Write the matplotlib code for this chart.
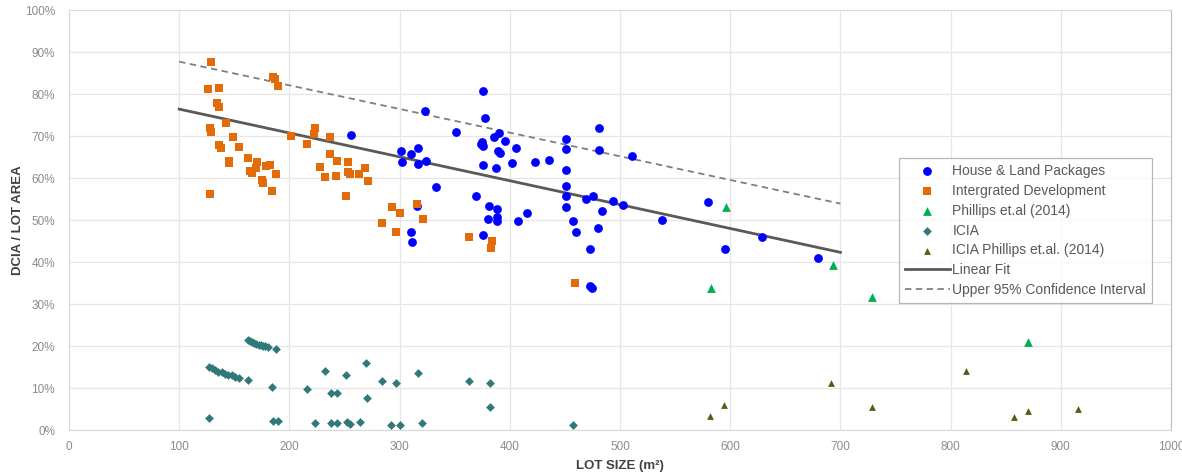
import matplotlib
matplotlib.use("Agg")
import matplotlib.pyplot as plt
from matplotlib.ticker import PercentFormatter, MultipleLocator

plt.rcParams["font.family"] = ["Liberation Sans", "DejaVu Sans"]

# House & Land Packages (lot size m2, DCIA %)
hl_x = [256, 301, 310, 317, 302, 317, 324, 323, 333, 316, 310, 311.5, 351, 376, 377.5,
        374.5, 376, 373.5, 385.7, 390.5, 395.9, 389.6, 391, 406, 376, 387.5, 402, 423,
        436, 369, 381, 388, 380.5, 388, 388, 407, 416, 376, 451, 451, 451, 451, 451, 451,
        481, 481, 511, 469.5, 475.5, 494, 503, 484, 457, 460, 480, 472.5, 472.5, 475,
        538, 580, 595, 629, 680]
hl_y = [70.2, 66.4, 65.7, 67.2, 63.7, 63.3, 64.0, 76.0, 57.8, 53.3, 47.2, 44.7, 71.0, 80.6,
        74.4, 68.5, 67.6, 68.0, 69.8, 70.6, 68.8, 66.5, 65.9, 67.1, 63.1, 62.3, 63.6, 63.9,
        64.2, 55.8, 53.3, 52.6, 50.2, 50.8, 49.8, 49.8, 51.7, 46.4, 69.4, 66.8, 61.8, 58.0,
        55.6, 53.2, 71.8, 66.6, 65.2, 55.1, 55.6, 54.6, 53.6, 52.1, 49.8, 47.1, 48.2, 43.0,
        34.4, 33.8, 50.0, 54.4, 43.1, 45.9, 41.0]

# Intergrated Development
id_x = [129, 126, 136, 134, 136, 142, 128, 129, 149, 136, 138, 154, 145, 145, 162, 164,
        166, 171, 170, 175, 176, 179, 182, 188, 184, 128, 185, 187, 190, 201, 216, 223,
        222, 237, 237, 243, 253, 228, 232, 242, 253, 255, 263, 269, 271, 251, 293, 300,
        284, 297, 316, 321, 363, 384, 383, 459]
id_y = [87.6, 81.3, 81.5, 77.9, 76.8, 73.2, 72.0, 71.0, 69.7, 67.9, 67.1, 67.3, 64.1, 63.6,
        64.8, 61.7, 61.1, 63.9, 62.3, 59.5, 58.9, 62.9, 63.1, 60.9, 56.8, 56.3, 84.0, 83.5,
        81.9, 70.0, 68.1, 71.8, 70.5, 69.8, 65.7, 64.0, 63.9, 62.7, 60.2, 60.5, 61.5, 61.0,
        61.0, 62.3, 59.4, 55.7, 53.0, 51.6, 49.2, 47.1, 53.7, 50.2, 46.0, 45.1, 43.4, 34.9]

# Phillips et.al (2014)
ph_x = [596, 583, 693, 728.5, 870]
ph_y = [53.2, 33.7, 39.3, 31.7, 21.0]

# ICIA
icia_x = [162, 164, 166, 168, 170, 172, 174, 176, 178, 181, 187.6,
          127.3, 129.4, 132.5, 135.5, 138.5, 141.5, 144.6, 147.6, 150.6, 154.3, 162.1,
          184.2, 126.8, 185.4, 189.9, 215.7, 232.3, 237.5, 243, 223.2, 237.5, 243, 251.1,
          252.6, 255, 263.8, 269.5, 270.7, 283.8, 292.2, 300.1, 297, 316.4, 320.3, 362.7,
          382.1, 381.7, 457.6]
icia_y = [21.4, 21.1, 20.9, 20.7, 20.5, 20.3, 20.2, 20.0, 19.9, 19.7, 19.2,
          15.1, 14.7, 14.3, 13.9, 13.7, 13.4, 13.2, 13.0, 12.7, 12.5, 11.8,
          10.3, 2.9, 2.1, 2.1, 9.8, 14.1, 8.7, 8.7, 1.7, 1.6, 1.6, 13.1,
          2.0, 1.5, 1.8, 15.9, 7.7, 11.6, 1.3, 1.2, 11.1, 13.5, 1.6, 11.7,
          11.3, 5.5, 1.3]

# ICIA Phillips et.al. (2014)
iph_x = [581.3, 594.1, 691.4, 728.5, 813.8, 857.8, 870.1, 915.4]
iph_y = [3.3, 5.9, 11.1, 5.5, 14.0, 3.1, 4.5, 5.1]

# fitted lines (end points)
fit_x = [100, 700]
fit_y = [76.4, 42.3]
ci_x = [100, 700]
ci_y = [87.7, 53.9]

fig = plt.figure(figsize=(11.82, 4.74), dpi=100)
ax = fig.add_axes([0.0584, 0.0928, 0.9323, 0.8861])

ax.plot(fit_x, fit_y, color="#595959", lw=2.0, zorder=2, label="Linear Fit")
ax.plot(ci_x, ci_y, color="#7f7f7f", lw=1.3, ls=(0, (3.5, 2.5)), zorder=2,
        label="Upper 95% Confidence Interval")

h1 = ax.scatter(hl_x, hl_y, s=40, marker="o", color="#0000ff", linewidths=0, zorder=3,
                label="House & Land Packages")
h2 = ax.scatter(id_x, id_y, s=38, marker="s", color="#e36c09", linewidths=0, zorder=3,
                label="Intergrated Development")
h3 = ax.scatter(ph_x, ph_y, s=40, marker="^", color="#00b050", linewidths=0, zorder=3,
                label="Phillips et.al (2014)")
h4 = ax.scatter(icia_x, icia_y, s=20, marker="D", color="#31787a", linewidths=0, zorder=3,
                label="ICIA")
h5 = ax.scatter(iph_x, iph_y, s=24, marker="^", color="#5a5a14", linewidths=0, zorder=3,
                label="ICIA Phillips et.al. (2014)")

ax.set_xlim(0, 1000)
ax.set_ylim(0, 100)
ax.xaxis.set_major_locator(MultipleLocator(100))
ax.yaxis.set_major_locator(MultipleLocator(10))
ax.yaxis.set_major_formatter(PercentFormatter(decimals=0))
ax.grid(True, color="#e6e6e6", lw=0.9, zorder=0)
ax.set_axisbelow(True)
ax.tick_params(length=0, labelsize=8.5, labelcolor="#8c8c8c")
ax.tick_params(axis="y", pad=10)
ax.tick_params(axis="x", pad=8)
for side in ["left", "bottom", "top"]:
    ax.spines[side].set_color("#d9d9d9")
ax.spines["right"].set_color("#bfbfbf")

ax.set_xlabel("LOT SIZE (m²)", fontsize=9.5, fontweight="bold", color="#404040", labelpad=5)
ax.set_ylabel("DCIA / LOT AREA", fontsize=9.5, fontweight="bold", color="#404040", labelpad=1)

lines = ax.get_lines()
handles = [h1, h2, h3, h4, h5, lines[0], lines[1]]
leg = ax.legend(handles=handles, loc="upper left", bbox_to_anchor=(0.753, 0.648),
                fontsize=10, frameon=True, fancybox=False, edgecolor="#a6a6a6",
                handlelength=3.2, handletextpad=0.2, labelspacing=0.42,
                borderpad=0.45, borderaxespad=0)
leg.get_frame().set_linewidth(0.9)
for t in leg.get_texts():
    t.set_color("#595959")

fig.savefig("out.png", dpi=100)
